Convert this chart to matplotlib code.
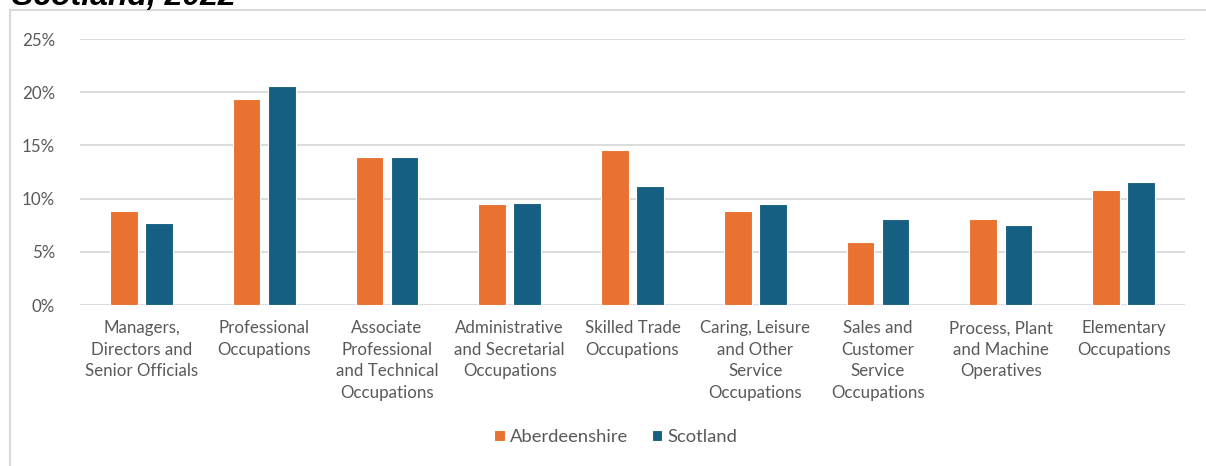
import matplotlib.pyplot as plt
import numpy as np
from matplotlib.patches import Rectangle
from matplotlib.ticker import PercentFormatter

occupations = [
    "Managers,\nDirectors and\nSenior Officials",
    "Professional\nOccupations",
    "Associate\nProfessional\nand Technical\nOccupations",
    "Administrative\nand Secretarial\nOccupations",
    "Skilled Trade\nOccupations",
    "Caring, Leisure\nand Other\nService\nOccupations",
    "Sales and\nCustomer\nService\nOccupations",
    "Process, Plant\nand Machine\nOperatives",
    "Elementary\nOccupations",
]
aberdeenshire = [8.8, 19.4, 13.9, 9.5, 14.6, 8.8, 5.9, 8.1, 10.8]
scotland = [7.7, 20.6, 13.9, 9.6, 11.2, 9.5, 8.1, 7.5, 11.6]

orange = '#E97132'
blue = '#156082'
grey_text = '#595959'
grid_col = '#D9D9D9'

plt.rcParams['font.family'] = ['Lato', 'DejaVu Sans']

W, H = 1206, 466
fig = plt.figure(figsize=(W / 100, H / 100), dpi=100)

# chart area border (runs off the right and bottom edges)
fig.patches.append(Rectangle((10 / W, -0.1), 1.2, 1 - 10 / H + 0.1,
                             transform=fig.transFigure, fill=False,
                             edgecolor=grid_col, linewidth=1.5))

fig.text(12 / W, 1 - 5 / H, "Scotland, 2022", family='Liberation Sans',
         fontsize=23, fontweight='bold', fontstyle='italic', va='baseline',
         color='black')

ax = fig.add_axes([80 / W, 1 - 305 / H, (1185 - 80) / W, (305 - 39) / H])

x = np.arange(len(occupations))
w = 0.225
ax.bar(x - 0.143, aberdeenshire, w, color=orange, edgecolor='white',
       linewidth=0.8, label='Aberdeenshire', zorder=3)
ax.bar(x + 0.143, scotland, w, color=blue, edgecolor='white',
       linewidth=0.8, label='Scotland', zorder=3)

ax.set_xlim(-0.5, len(occupations) - 0.5)
ax.set_ylim(0, 25)
ax.set_yticks(range(0, 26, 5))
ax.yaxis.set_major_formatter(PercentFormatter(decimals=0))
ax.grid(axis='y', color=grid_col, linewidth=1.3, zorder=0)

ax.set_xticks(x)
ax.set_xticklabels(occupations, fontsize=12.2, color=grey_text, linespacing=1.42)
ax.tick_params(axis='x', length=0, pad=11)
ax.tick_params(axis='y', length=0, pad=18, labelsize=12.2, labelcolor=grey_text)
for s in ax.spines.values():
    s.set_visible(False)

fig.legend(loc='center', bbox_to_anchor=(616 / W, 1 - 437 / H), ncol=2,
           frameon=False, fontsize=13.2, handlelength=0.55, handleheight=0.6,
           handletextpad=0.3, columnspacing=1.3, labelcolor=grey_text)

fig.savefig('out.png', dpi=100)
